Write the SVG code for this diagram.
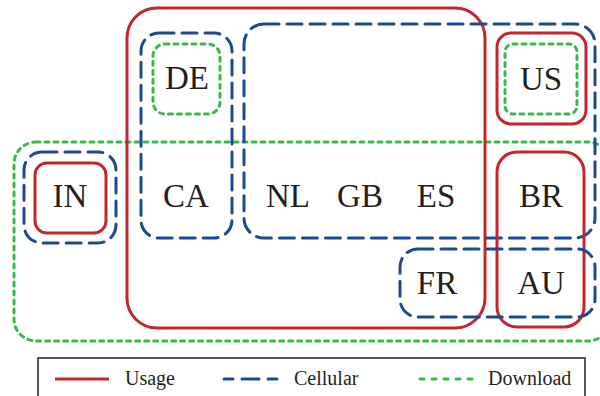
<svg xmlns="http://www.w3.org/2000/svg" width="600" height="396" viewBox="0 0 600 396">
<style>
.u{fill:none;stroke:#c1272d;stroke-width:3}
.c{fill:none;stroke:#1b4a8e;stroke-width:3;stroke-dasharray:15 8;stroke-linecap:round}
.d{fill:none;stroke:#36bb48;stroke-width:3;stroke-dasharray:4 5;stroke-linecap:round}
.t{font-family:"Liberation Serif","Times New Roman",serif;font-size:33px;fill:#231f20;text-anchor:middle}
.l{font-family:"Liberation Serif","Times New Roman",serif;font-size:20px;fill:#231f20}
</style>
<rect width="600" height="396" fill="#fff"/>
<g id="sets">
<rect id="download-all" class="d" x="14" y="142" width="596" height="199" rx="22"/>
<rect id="usage-main" class="u" x="127" y="8" width="358" height="320" rx="30"/>
<rect id="cellular-main" class="c" x="244" y="24" width="351" height="214" rx="20"/>
<rect id="cellular-deca" class="c" x="141" y="33" width="91" height="205" rx="18"/>
<rect id="download-de" class="d" x="153" y="44" width="67" height="70" rx="12"/>
<rect id="usage-us" class="u" x="497" y="33" width="89" height="91" rx="14"/>
<rect id="download-us" class="d" x="505" y="44" width="72" height="70" rx="8"/>
<rect id="usage-brau" class="u" x="497" y="152" width="87" height="175" rx="20"/>
<rect id="cellular-frau" class="c" x="400" y="249" width="195" height="68" rx="18"/>
<rect id="cellular-in" class="c" x="24" y="152" width="92" height="91" rx="18"/>
<rect id="usage-in" class="u" x="35" y="163" width="71" height="70" rx="12"/>
</g>
<g id="labels">
<g id="DE"><text class="t" x="187" y="89">DE</text></g>
<g id="US"><text class="t" x="541" y="90">US</text></g>
<g id="IN"><text class="t" x="70" y="207">IN</text></g>
<g id="CA"><text class="t" x="186" y="207">CA</text></g>
<g id="NL"><text class="t" x="288" y="207">NL</text></g>
<g id="GB"><text class="t" x="360" y="207">GB</text></g>
<g id="ES"><text class="t" x="436" y="207">ES</text></g>
<g id="BR"><text class="t" x="541" y="207">BR</text></g>
<g id="FR"><text class="t" x="437" y="294">FR</text></g>
<g id="AU"><text class="t" x="541" y="294">AU</text></g>
</g>
<g id="connectors"></g>
<g id="legend">
<rect x="38" y="358" width="547" height="50" fill="#fff" stroke="#231f20" stroke-width="1.5"/>
<line x1="55" y1="379" x2="109" y2="379" stroke="#c1272d" stroke-width="3"/>
<text class="l" x="125" y="385">Usage</text>
<line x1="224" y1="379" x2="279" y2="379" stroke="#1b4a8e" stroke-width="3" stroke-dasharray="9 9 17 9" stroke-linecap="round"/>
<text class="l" x="294" y="385">Cellular</text>
<line x1="420" y1="379" x2="473" y2="379" class="d" style="stroke-dasharray:4 8"/>
<text class="l" x="488" y="385">Download</text>
</g>
</svg>
